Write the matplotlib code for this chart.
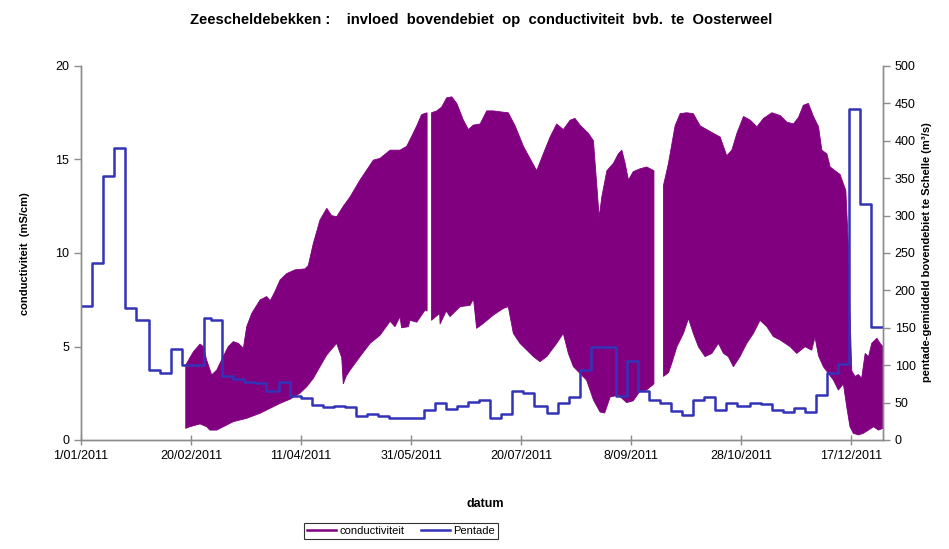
import datetime as dt
import numpy as np
import matplotlib
matplotlib.use('Agg')
import matplotlib.pyplot as plt
from matplotlib.lines import Line2D

plt.rcParams['font.family'] = ['Liberation Sans', 'DejaVu Sans']

start = dt.date(2011, 1, 1)
nan = np.nan

# pentade-averaged discharge at Schelle (m3/s), 6 pentades per month
pentade = [179, 236, 353, 390, 177, 160,
           94, 90, 122, 100, 100, 163,
           160, 85, 82, 78, 76, 65,
           77, 59, 56, 47, 44, 45,
           44, 32, 35, 32, 30, 30,
           30, 40, 50, 42, 45, 51,
           54, 30, 35, 65, 63, 45,
           36, 50, 57, 94, 125, 125,
           59, 105, 66, 54, 50, 39,
           33, 54, 58, 40, 50, 45,
           50, 48, 40, 38, 43, 38,
           60, 89, 101, 442, 316, 151]

# conductivity, upper envelope (days since 1/01/2011, mS/cm), nan = gap
cmax_days = [47.6, 49.5, 51.1, 54.1, 55.6, 57.1, 59.4, 61.7, 63.9, 66.9,
             69.2, 71.5, 73.8, 75.3, 77.6, 81.4, 84.4, 86.0, 88.0, 90.5,
             93.5, 97.3, 101.8, 103.3, 105.6, 108.6, 111.7, 113.9, 116.2, 119.2,
             122.3, 126.8, 132.9, 135.9, 140.5, 145.0, 148.0, 150.3, 152.6, 154.8,
             157.3, 158.3,
             159.3, 161.7, 163.9, 166.2, 168.5, 170.8, 173.8, 176.1, 178.3, 181.4,
             184.4, 187.4, 190.5, 194.2, 197.3, 201.1, 204.8, 207.1, 210.1, 213.2,
             216.2, 219.2, 222.3, 224.5, 226.8, 230.6, 232.9, 234.5, 235.5, 236.7,
             239.0, 242.0, 244.2, 245.8, 247.3, 248.8, 251.0, 254.0, 257.1, 260.4,
             262.5,
             264.7, 267.0, 270.0, 272.3, 275.3, 278.3, 281.4, 284.4, 287.4, 290.5,
             293.5, 295.8, 298.1, 301.1, 304.2, 307.2, 310.2, 314.0, 317.8, 320.8,
             323.8, 326.1, 328.3, 330.6, 332.9, 335.2, 336.7, 339.0, 340.5, 342.7,
             345.0, 346.5, 347.6, 348.8, 349.5, 350.3, 351.8, 353.3, 354.8, 356.4,
             357.9, 359.4, 361.7, 363.2, 364.4]
cmax = [4.0, 4.4, 4.72, 5.13, 4.99, 4.28, 3.48, 3.74, 4.28, 4.99,
        5.26, 5.17, 4.9, 6.06, 6.77, 7.49, 7.67, 7.45, 7.9, 8.56,
        8.9, 9.1, 9.15, 9.33, 10.52, 11.76, 12.39, 12.0, 11.94, 12.5,
        13.0, 13.9, 14.97, 15.06, 15.5, 15.5, 15.7, 16.24, 16.8, 17.4,
        17.5, nan,
        17.5, 17.6, 17.8, 18.3, 18.35, 18.0, 17.1, 16.6, 16.84, 16.9,
        17.6, 17.6, 17.55, 17.5, 16.8, 15.7, 14.9, 14.4, 15.3, 16.2,
        16.9, 16.6, 17.1, 17.2, 16.84, 16.4, 16.0, 13.5, 11.9, 13.0,
        14.4, 14.8, 15.3, 15.5, 14.8, 13.9, 14.35, 14.5, 14.6, 14.4,
        nan,
        13.6, 14.8, 16.8, 17.45, 17.5, 17.45, 16.8, 16.6, 16.4, 16.2,
        15.2, 15.5, 16.4, 17.3, 17.1, 16.75, 17.2, 17.5, 17.35, 17.0,
        16.9, 17.25, 17.9, 18.0, 17.3, 16.75, 15.5, 15.3, 14.6, 14.4,
        14.2, 13.7, 13.35, 10.3, 6.8, 3.7, 3.4, 3.5, 3.3, 4.63,
        4.45, 5.17, 5.44, 5.17, 5.0]

# conductivity, lower envelope
cmin_days = [47.6, 49.5, 54.1, 57.1, 58.6, 61.7, 64.7, 69.2, 75.3, 81.4,
             87.4, 90.5, 95.0, 99.5, 102.6, 105.6, 108.6, 111.7, 116.2, 118.5,
             119.2, 120.5, 122.3, 126.8, 131.4, 135.9, 140.5, 142.7, 145.0, 145.7,
             148.8, 149.5, 152.6, 156.4, 157.3, 158.3,
             159.3, 163.0, 163.2, 166.0, 167.7, 172.3, 176.8, 178.4, 179.8, 182.9,
             187.4, 192.0, 194.2,
             196.5, 199.5, 202.6, 205.6, 208.6, 211.7, 216.2, 219.2, 221.5, 223.8,
             226.8, 229.8, 232.9, 235.9, 238.0, 240.5, 244.2, 248.0, 251.0, 254.0,
             257.0, 260.4, 262.5,
             264.7, 267.0, 268.5, 270.8, 273.8, 276.1, 278.3, 280.6, 283.6, 286.7,
             289.7, 292.0, 294.2, 296.5, 299.5, 302.6, 305.6, 308.6, 311.7, 314.7,
             317.7, 322.3, 325.3, 329.1, 332.1, 333.6, 335.2, 337.4, 339.7, 342.0,
             344.2, 346.5, 348.0, 349.5, 351.0, 353.3, 355.6, 357.9, 360.2, 362.4,
             364.4]
cmin = [0.62, 0.71, 0.86, 0.71, 0.53, 0.53, 0.71, 0.98, 1.16, 1.43,
        1.78, 1.96, 2.18, 2.5, 2.85, 3.3, 3.92, 4.55, 5.17, 4.4,
        3.0, 3.4, 3.74, 4.46, 5.17, 5.6, 6.35, 6.06, 6.6, 6.0,
        6.06, 6.4, 6.3, 6.95, 6.9, nan,
        6.4, 6.77, 6.2, 6.9, 6.6, 7.13, 7.2, 7.55, 5.97, 6.24,
        6.68, 7.04, 7.13,
        5.7, 5.17, 4.81, 4.46, 4.19, 4.46, 5.17, 5.7, 4.63, 3.92,
        3.56, 3.2, 2.14, 1.5, 1.44, 2.3, 2.4, 2.0, 2.1, 2.6,
        2.67, 3.0, nan,
        3.4, 3.6, 4.1, 4.98, 5.7, 6.5, 5.7, 4.99, 4.46, 4.63,
        5.17, 4.63, 4.46, 3.92, 4.46, 5.17, 5.7, 6.4, 6.06, 5.53,
        5.35, 4.99, 4.63, 4.99, 4.8, 5.5, 4.5, 3.92, 3.56, 3.2,
        2.67, 3.0, 1.78, 0.71, 0.36, 0.27, 0.36, 0.53, 0.71, 0.53,
        0.62]


def segments(days, vals):
    days = np.asarray(days, float)
    vals = np.asarray(vals, float)
    cut = np.where(np.isnan(vals))[0]
    out = []
    lo = 0
    for c in list(cut) + [len(vals)]:
        out.append((days[lo:c], vals[lo:c]))
        lo = c + 1
    return out


# pentade boundaries: days 1,6,11,16,21,26 of each month
edges = []
for m in range(1, 13):
    first = (dt.date(2011, m, 1) - start).days
    edges += [first + k for k in (0, 5, 10, 15, 20, 25)]
edges.append(365)

purple = '#800080'
blue = '#3333B8'
grey = '#8C8C8C'

fig = plt.figure(figsize=(9.49, 5.49), dpi=100)
ax = fig.add_axes([81 / 949, 1 - 440 / 549, 802 / 949, 374 / 549])
ax2 = ax.twinx()

for (du, vu), (dl, vl) in zip(segments(cmax_days, cmax), segments(cmin_days, cmin)):
    ax.fill(np.concatenate([du, dl[::-1]]), np.concatenate([vu, vl[::-1]]),
            color=purple, lw=0.6, ec=purple)

ax2.plot(edges, pentade + [pentade[-1]], drawstyle='steps-post', color=blue, lw=1.8)

ax.set_xlim(0, 364.5)
ax.set_ylim(0, 20)
ax2.set_ylim(0, 500)
ax.set_yticks(range(0, 21, 5))
ax2.set_yticks(range(0, 501, 50))

tick_days = list(range(0, 351, 50))
tick_labels = []
for d in tick_days:
    t = start + dt.timedelta(days=d)
    tick_labels.append(f"{t.day}/{t.month:02d}/{t.year}")
ax.set_xticks(tick_days)
ax.set_xticklabels(tick_labels)

for a in (ax, ax2):
    a.spines['top'].set_visible(False)
    for s in ('left', 'right', 'bottom'):
        a.spines[s].set_color(grey)
        a.spines[s].set_linewidth(1.0)
    a.tick_params(colors=grey, labelcolor='black', labelsize=9, width=1.0)
ax.tick_params(axis='x', direction='inout', length=7, pad=4)
ax.tick_params(axis='y', direction='out', length=5)
ax2.tick_params(axis='y', direction='out', length=5)

fig.text(481 / 949, 1 - 20 / 549,
         'Zeescheldebekken :    invloed  bovendebiet  op  conductiviteit  bvb.  te  Oosterweel',
         ha='center', va='center', fontsize=10.6, fontweight='bold')
fig.text(25 / 949, 1 - 254 / 549, 'conductiviteit  (mS/cm)', rotation=90,
         ha='center', va='center', fontsize=8, fontweight='bold')
fig.text(927 / 949, 1 - 252 / 549, 'pentade-gemiddeld bovendebiet te Schelle (m³/s)',
         rotation=90, ha='center', va='center', fontsize=8, fontweight='bold')
fig.text(485 / 949, 1 - 504 / 549, 'datum', ha='center', va='center',
         fontsize=9, fontweight='bold')

handles = [Line2D([], [], color=purple, lw=1.8), Line2D([], [], color=blue, lw=1.8)]
leg = fig.legend(handles, ['conductiviteit', 'Pentade'], loc='center',
                 bbox_to_anchor=(401 / 949, 1 - 531 / 549), ncol=2, fontsize=8,
                 frameon=True, fancybox=False, handlelength=2.6, handletextpad=0.3,
                 columnspacing=1.5, borderpad=0.3, borderaxespad=0)
leg.get_frame().set_edgecolor('black')
leg.get_frame().set_linewidth(0.8)

fig.savefig('out.png', dpi=100)
